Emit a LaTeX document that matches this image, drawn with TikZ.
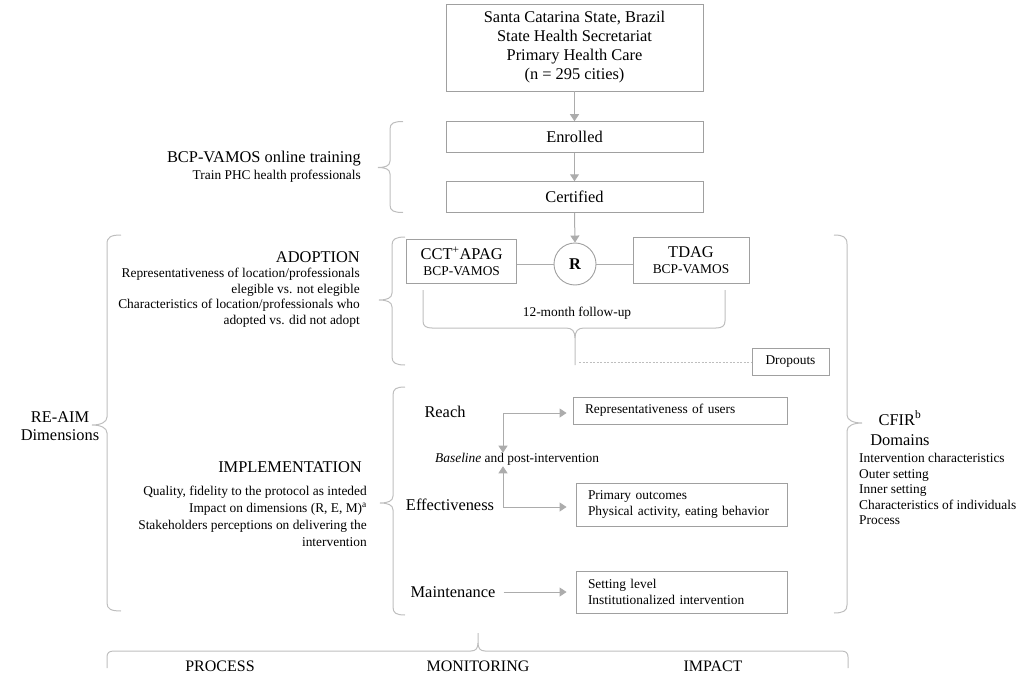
\documentclass[tikz,border=0pt]{standalone}
\usepackage{fontspec}
\setmainfont{Liberation Serif}
\usetikzlibrary{arrows.meta}
\definecolor{boxc}{RGB}{160,160,160}
\definecolor{arrc}{RGB}{172,172,172}
\definecolor{brc}{RGB}{190,190,190}
\newcommand{\fbig}{\fontsize{16.4}{19}\selectfont}
\newcommand{\fsm}{\fontsize{13.4}{15.5}\selectfont}
\newcommand{\fimp}{\fontsize{13.4}{17.2}\selectfont}
\begin{document}
\begin{tikzpicture}[x=1pt,y=-1pt,
  box/.style={draw=boxc, line width=0.9pt, inner sep=0pt, align=center},
  lbox/.style={draw=boxc, line width=0.9pt, inner xsep=12pt, inner ysep=0pt, align=left, font=\fsm},
  arr/.style={color=arrc, line width=1pt, -{Triangle[width=9pt,length=7pt]}},
  conn/.style={color=arrc, line width=1pt},
  dash line/.style={color=brc, line width=0.9pt, dash pattern=on 2pt off 1.5pt},
  brace/.style={draw=brc, line width=1pt},
  lbl/.style={inner sep=0pt}]
\useasboundingbox (0,0) rectangle (1021,677);

% ---- top column
\node[box, minimum width=257, minimum height=87, font=\fbig] (top) at (574.5,47.5)
  {Santa Catarina State, Brazil\\State Health Secretariat\\Primary Health Care\\(n = 295 cities)};
\node[box, minimum width=257, minimum height=31, font=\fbig] (enr) at (574.5,137.2) {Enrolled};
\node[box, minimum width=257, minimum height=31, font=\fbig] (cert) at (574.5,197.2) {Certified};
\draw[arr] (top.south) -- (enr.north);
\draw[arr] (enr.south) -- (cert.north);

% ---- training label and brace
\node[lbl, anchor=east, font=\fbig] (train) at (361,159) {BCP-VAMOS online training};
\node[lbl, anchor=east, font=\fsm] (traint) at (361,176) {Train PHC health professionals};
\draw[brace] (403,121.5) .. controls (394,121.5) and (390,123) .. (390,129) -- (390,161)
  .. controls (390,166) and (385,167.5) .. (378,167.5)
  .. controls (385,167.5) and (390,169) .. (390,174) -- (390,205)
  .. controls (390,211) and (394,212.5) .. (403,212.5);

% ---- adoption block
\node[box, circle, minimum size=42, font=\fbig\bfseries] (R) at (575,264) {R};
\draw[arr] (cert.south) -- (R.north);
\node[box, minimum width=110, minimum height=44, font=\fbig] (cct) at (461.7,261)
  {CCT\textsuperscript{+}APAG\\[-3pt]{\fsm BCP-VAMOS}};
\node[box, minimum width=116, minimum height=46, font=\fbig] (tdag) at (691,260)
  {TDAG\\[-3pt]{\fsm BCP-VAMOS}};
\draw[conn] (cct.east |- R.west) -- (R.west);
\draw[conn] (R.east) -- (R.east -| tdag.west);

\draw[brace] (423,290) -- (423,321) .. controls (423,326) and (426,328) .. (432,328)
  -- (566,328) .. controls (572,328) and (575,331) .. (575,338) -- (575,365);
\draw[brace] (725,290) -- (725,321) .. controls (725,326) and (722,328) .. (716,328)
  -- (584,328) .. controls (578,328) and (575,331) .. (575,338);
\coordinate (futip) at (575,362);
\node[lbl, font=\fsm] (fu) at (577,313) {12-month follow-up};
\node[box, minimum width=77, minimum height=27, font=\fsm] (drop) at (790.5,361.5) {Dropouts};
\draw[dash line] ([xshift=4pt]futip) -- (futip -| drop.west);

\node[lbl, anchor=east, font=\fbig] (adopt) at (360,257) {ADOPTION};
\node[lbl, anchor=east, align=right, font=\fsm] (adoptt) at (360,297.5)
  {Representativeness of location/professionals\\elegible vs. not elegible\\Characteristics of location/professionals who\\adopted vs. did not adopt};
\draw[brace] (405,237) .. controls (396,237) and (392,239) .. (392,245) -- (392,293)
  .. controls (392,298) and (387,300) .. (379,300)
  .. controls (387,300) and (392,302) .. (392,307) -- (392,357)
  .. controls (392,363) and (396,365) .. (405,365);

% ---- implementation block
\node[lbl, font=\fbig] (reach) at (445,412) {Reach};
\node[lbl, font=\fbig] (eff) at (450,505) {Effectiveness};
\node[lbl, font=\fbig] (maint) at (453,592) {Maintenance};
\node[lbl, anchor=west, font=\fsm] (base) at (435,459) {\textit{Baseline} and post-intervention};
\node[lbox, text width=190, minimum height=27] (rbox) at (680,410.5) {Representativeness of users};
\node[lbox, text width=187, minimum height=43] (ebox) at (681.5,504.5) {Primary outcomes\\Physical activity, eating behavior};
\node[lbox, text width=187, minimum height=42] (mbox) at (681.5,592) {Setting level\\Institutionalized intervention};
\coordinate (rc) at (503,413);
\coordinate (ec) at (503,507);
\draw[arr, shorten >=6pt] (rc) -- (rc -| rbox.west);
\draw[arr] (rc) -- (rc |- base.north) ;
\draw[arr, shorten >=9pt] (ec) -- (ec -| ebox.west);
\draw[arr] (ec) -- ([yshift=-1pt]ec |- base.south);
\draw[arr, shorten <=8pt, shorten >=9pt] (maint.east) -- (maint.east -| mbox.west);

\node[lbl, anchor=east, font=\fbig] (impl) at (362,467) {IMPLEMENTATION};
\node[lbl, anchor=east, align=right, font=\fimp] (implt) at (367,516.5)
  {Quality, fidelity to the protocol as inteded\\Impact on dimensions (R, E, M)\textsuperscript{a}\\Stakeholders perceptions on delivering the\\intervention};
\draw[brace] (405,387) .. controls (396,387) and (393,389) .. (393,395) -- (393,496)
  .. controls (393,501) and (388,503) .. (380,503)
  .. controls (388,503) and (393,505) .. (393,510) -- (393,607)
  .. controls (393,613) and (396,615) .. (405,615);

% ---- RE-AIM
\draw[brace] (121,235) .. controls (111,235) and (107,237) .. (107,244) -- (107,417)
  .. controls (107,422) and (101,425) .. (92,425)
  .. controls (101,425) and (107,428) .. (107,433) -- (107,603)
  .. controls (107,609) and (111,611) .. (121,611);
\node[lbl, align=center, font=\fontsize{16.4}{17.5}\selectfont] (reaim) at (60,426) {RE-AIM\\Dimensions};

% ---- CFIR
\draw[brace] (834,235) .. controls (843,235) and (847,237) .. (847,244) -- (847,415)
  .. controls (847,420) and (853,423) .. (862,423)
  .. controls (853,423) and (847,426) .. (847,431) -- (847,605)
  .. controls (847,611) and (843,613) .. (834,613);
\node[lbl, align=center, font=\fontsize{16.4}{20}\selectfont] (cfir) at (900,428) {CFIR\textsuperscript{b}\\Domains};
\node[lbl, anchor=west, align=left, font=\fsm] (cfirt) at (859,489)
  {Intervention characteristics\\Outer setting\\Inner setting\\Characteristics of individuals\\Process};

% ---- bottom brace
\draw[brace] (107,668) -- (107,657) .. controls (107,653) and (109,651) .. (114,651)
  -- (471,651) .. controls (476,651) and (478,648) .. (478,643) -- (478,633);
\draw[brace] (848,668) -- (848,657) .. controls (848,653) and (846,651) .. (841,651)
  -- (485,651) .. controls (480,651) and (478,648) .. (478,643);
\node[lbl, font=\fontsize{16}{18}\selectfont] (proc) at (220,666) {PROCESS};
\node[lbl, font=\fontsize{16}{18}\selectfont] (mon) at (478,666) {MONITORING};
\node[lbl, font=\fontsize{16}{18}\selectfont] (imp) at (713,666) {IMPACT};
\end{tikzpicture}
\end{document}
